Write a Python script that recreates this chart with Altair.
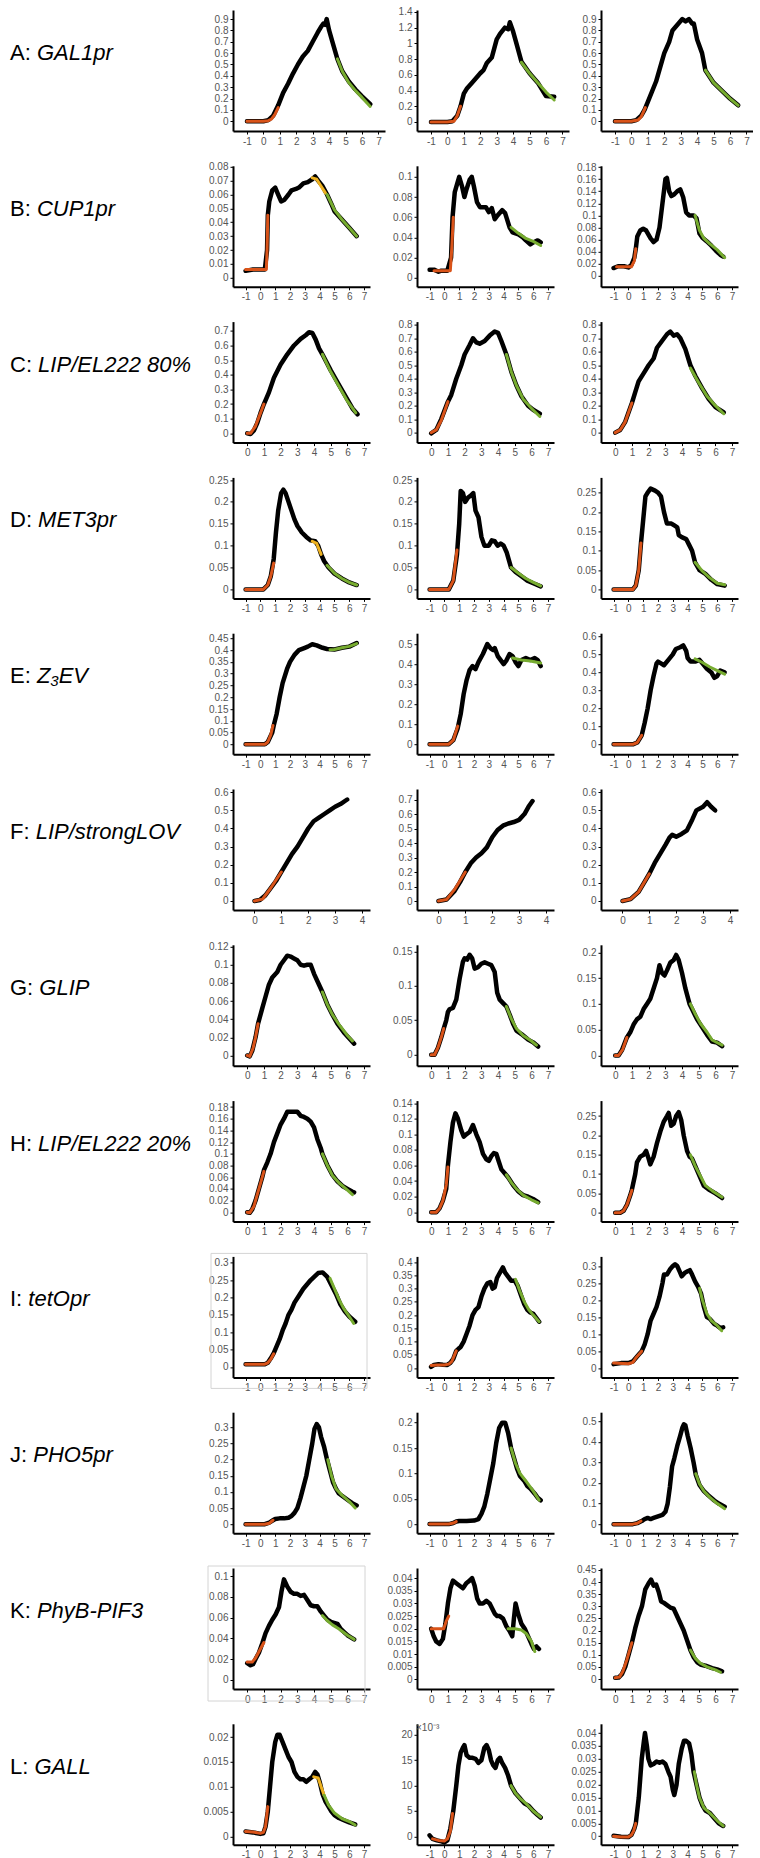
import altair as alt
import pandas as pd

# ---------------- data (time in h, signal) ----------------
A1_black = [[-1,0],[-0.5,0],[0,0],[0.3,0.01],[0.6,0.05],[0.9,0.14],[1.2,0.25],[1.5,0.33],[1.8,0.42],[2.1,0.5],[2.4,0.57],[2.7,0.62],[3.0,0.7],[3.3,0.78],[3.5,0.83],[3.65,0.86],[3.75,0.85],[3.85,0.9],[4.0,0.8],[4.2,0.7],[4.5,0.55],[4.8,0.44],[5.2,0.35],[5.6,0.28],[6.0,0.22],[6.5,0.15]]
A1_orange = [[-1,0],[-0.5,0],[0,0],[0.3,0.005],[0.5,0.02],[0.7,0.06],[0.9,0.12]]
A1_green = [[4.5,0.55],[4.8,0.44],[5.2,0.34],[5.6,0.27],[6,0.21],[6.5,0.13]]

A2_black = [[-1,0],[-0.5,0],[0,0],[0.3,0.01],[0.6,0.08],[0.8,0.2],[1.0,0.36],[1.2,0.43],[1.5,0.5],[2.0,0.62],[2.2,0.66],[2.4,0.75],[2.7,0.82],[3.0,1.05],[3.2,1.12],[3.5,1.2],[3.7,1.18],[3.8,1.27],[4.0,1.15],[4.2,1.0],[4.5,0.77],[5.0,0.62],[5.5,0.5],[6.0,0.33],[6.5,0.32]]
A2_orange = [[-1,0],[-0.5,0],[0,0],[0.4,0.01],[0.6,0.08],[0.8,0.2]]
A2_green = [[4.5,0.76],[5,0.62],[5.5,0.5],[6,0.38],[6.5,0.28]]

A3_black = [[-1,0],[-0.5,0],[0,0],[0.3,0.01],[0.6,0.05],[0.8,0.1],[1.0,0.17],[1.5,0.35],[2.0,0.6],[2.3,0.7],[2.5,0.8],[2.8,0.85],[3.1,0.9],[3.3,0.88],[3.5,0.9],[3.7,0.86],[3.8,0.86],[4.0,0.72],[4.3,0.6],[4.5,0.45],[5.0,0.34],[5.5,0.27],[6.0,0.2],[6.5,0.14]]
A3_orange = [[-1,0],[-0.5,0],[0,0],[0.4,0.01],[0.6,0.04],[0.85,0.12]]
A3_green = [[4.5,0.45],[5,0.34],[5.5,0.27],[6,0.2],[6.5,0.14]]

B1_black = [[-1,0.005],[-0.5,0.006],[0,0.006],[0.3,0.006],[0.45,0.02],[0.5,0.045],[0.6,0.055],[0.8,0.063],[1.0,0.065],[1.2,0.06],[1.4,0.055],[1.6,0.056],[1.9,0.06],[2.1,0.063],[2.4,0.064],[2.6,0.065],[2.9,0.068],[3.2,0.069],[3.5,0.071],[3.7,0.073],[3.9,0.07],[4.2,0.066],[4.5,0.06],[4.8,0.053],[5.0,0.048],[5.5,0.042],[6.0,0.036],[6.5,0.03]]
B1_orange = [[-1,0.006],[0.4,0.006],[0.45,0.02],[0.5,0.045]]
B1_yellow = [[3.5,0.072],[3.8,0.071],[4.1,0.066],[4.4,0.061]]
B1_green = [[4.5,0.06],[5,0.049],[5.5,0.042],[6,0.036],[6.5,0.03]]

B2_black = [[-1,0.008],[-0.7,0.008],[-0.4,0.006],[-0.2,0.007],[0.2,0.007],[0.45,0.02],[0.55,0.06],[0.7,0.085],[0.9,0.095],[1.0,0.1],[1.2,0.09],[1.35,0.08],[1.5,0.088],[1.7,0.097],[1.85,0.1],[2.0,0.09],[2.2,0.075],[2.4,0.07],[2.8,0.07],[3.0,0.065],[3.2,0.069],[3.4,0.058],[3.6,0.062],[3.9,0.067],[4.1,0.064],[4.4,0.05],[4.6,0.045],[5.0,0.043],[5.3,0.04],[5.5,0.037],[5.8,0.033],[6.0,0.035],[6.3,0.037],[6.5,0.035]]
B2_orange = [[-0.7,0.007],[0.4,0.007],[0.5,0.03],[0.6,0.06]]
B2_green = [[4.5,0.05],[5,0.044],[5.5,0.039],[6,0.036],[6.5,0.032]]

B3_black = [[-1,0.013],[-0.7,0.016],[-0.3,0.016],[0,0.014],[0.2,0.018],[0.4,0.03],[0.5,0.045],[0.6,0.065],[0.8,0.075],[1.0,0.078],[1.2,0.075],[1.5,0.062],[1.7,0.056],[1.9,0.06],[2.1,0.08],[2.3,0.12],[2.5,0.16],[2.6,0.162],[2.75,0.14],[2.9,0.132],[3.1,0.135],[3.3,0.14],[3.5,0.143],[3.7,0.13],[3.9,0.105],[4.1,0.1],[4.4,0.1],[4.6,0.095],[4.8,0.07],[5.0,0.063],[5.3,0.057],[5.6,0.05],[5.9,0.042],[6.2,0.035],[6.4,0.032]]
B3_orange = [[-0.8,0.015],[0.2,0.015],[0.4,0.025],[0.5,0.045]]
B3_green = [[4.5,0.1],[4.8,0.075],[5.1,0.062],[5.5,0.053],[6,0.043],[6.5,0.03]]

C1_black = [[0,0],[0.2,-0.005],[0.4,0.02],[0.6,0.07],[0.8,0.14],[1.0,0.2],[1.3,0.28],[1.6,0.38],[2.0,0.47],[2.4,0.54],[2.8,0.6],[3.2,0.645],[3.5,0.67],[3.7,0.69],[3.9,0.685],[4.1,0.64],[4.3,0.58],[4.5,0.54],[5.0,0.43],[5.5,0.33],[6.0,0.23],[6.3,0.17],[6.6,0.13]]
C1_orange = [[0,0],[0.2,0],[0.5,0.05],[0.8,0.14],[1.0,0.2]]
C1_green = [[4.5,0.54],[5,0.42],[5.5,0.32],[6,0.22],[6.5,0.14]]

C2_black = [[0,-0.005],[0.3,0.02],[0.6,0.1],[1.0,0.23],[1.2,0.28],[1.5,0.4],[1.8,0.5],[2.0,0.58],[2.3,0.65],[2.5,0.7],[2.7,0.67],[2.9,0.66],[3.2,0.68],[3.5,0.72],[3.8,0.75],[4.0,0.74],[4.2,0.68],[4.5,0.58],[4.8,0.45],[5.1,0.35],[5.4,0.27],[5.8,0.2],[6.1,0.17],[6.5,0.14]]
C2_orange = [[0,0],[0.3,0.02],[0.6,0.09],[1.0,0.23]]
C2_green = [[4.5,0.58],[4.8,0.45],[5.1,0.35],[5.5,0.25],[6,0.18],[6.5,0.12]]

C3_black = [[0,0],[0.3,0.02],[0.6,0.08],[1.0,0.22],[1.2,0.3],[1.4,0.38],[1.7,0.44],[2.0,0.5],[2.3,0.55],[2.5,0.63],[2.8,0.68],[3.1,0.73],[3.3,0.75],[3.5,0.72],[3.7,0.73],[3.9,0.7],[4.2,0.62],[4.5,0.5],[4.8,0.42],[5.2,0.33],[5.6,0.25],[6.0,0.19],[6.5,0.15]]
C3_orange = [[0,0],[0.3,0.02],[0.6,0.08],[1.0,0.22]]
C3_green = [[4.5,0.48],[5,0.37],[5.5,0.27],[6,0.2],[6.5,0.14]]

D1_black = [[-1,0],[-0.5,0],[0.2,0],[0.5,0.01],[0.7,0.03],[0.9,0.07],[1.05,0.13],[1.2,0.18],[1.4,0.22],[1.55,0.228],[1.7,0.22],[1.9,0.2],[2.1,0.18],[2.3,0.16],[2.5,0.145],[2.8,0.13],[3.1,0.12],[3.4,0.112],[3.7,0.11],[3.9,0.1],[4.1,0.08],[4.3,0.065],[4.6,0.05],[5.0,0.036],[5.5,0.025],[6.0,0.016],[6.5,0.01]]
D1_orange = [[-1,0],[0.2,0],[0.5,0.01],[0.7,0.03],[0.9,0.06]]
D1_yellow = [[3.5,0.11],[3.8,0.105],[4.1,0.08]]
D1_green = [[4.5,0.055],[5,0.037],[5.5,0.025],[6,0.016],[6.5,0.01]]

D2_black = [[-1,0],[-0.5,0],[0.3,0],[0.6,0.02],[0.85,0.08],[1.0,0.15],[1.1,0.225],[1.25,0.22],[1.4,0.2],[1.6,0.21],[1.8,0.215],[1.95,0.22],[2.1,0.18],[2.3,0.165],[2.5,0.12],[2.7,0.1],[3.0,0.1],[3.2,0.112],[3.4,0.11],[3.6,0.1],[3.8,0.105],[4.0,0.1],[4.2,0.085],[4.5,0.05],[4.8,0.04],[5.2,0.03],[5.6,0.02],[6.0,0.014],[6.5,0.007]]
D2_orange = [[-1,0],[0.3,0],[0.6,0.02],[0.85,0.09]]
D2_green = [[4.5,0.05],[5,0.037],[5.5,0.025],[6,0.016],[6.5,0.008]]

D3_black = [[-1,0],[-0.5,0],[0.3,0],[0.5,0.01],[0.7,0.05],[0.85,0.12],[1.0,0.18],[1.15,0.24],[1.3,0.25],[1.5,0.26],[1.8,0.255],[2.0,0.25],[2.2,0.24],[2.4,0.2],[2.6,0.17],[2.9,0.17],[3.1,0.165],[3.3,0.16],[3.4,0.14],[3.6,0.135],[3.9,0.13],[4.1,0.115],[4.3,0.1],[4.5,0.07],[4.8,0.05],[5.2,0.04],[5.6,0.025],[6.0,0.014],[6.5,0.01]]
D3_orange = [[-1,0],[0.3,0],[0.5,0.01],[0.7,0.05],[0.85,0.12]]
D3_green = [[4.5,0.07],[5,0.047],[5.5,0.03],[6,0.016],[6.5,0.012]]

E1_black = [[-1,0],[-0.5,0],[0.3,0],[0.5,0.01],[0.8,0.05],[0.9,0.08],[1.1,0.13],[1.3,0.2],[1.5,0.26],[1.8,0.32],[2.0,0.35],[2.3,0.38],[2.6,0.4],[3.0,0.41],[3.2,0.415],[3.5,0.425],[3.8,0.42],[4.0,0.415],[4.2,0.41],[4.5,0.405],[5.0,0.403],[5.5,0.41],[6.0,0.415],[6.5,0.43]]
E1_orange = [[-1,0],[0.3,0],[0.5,0.01],[0.7,0.04],[0.85,0.08]]
E1_green = [[4.7,0.402],[5,0.403],[5.5,0.41],[6,0.416],[6.5,0.428]]

E2_black = [[-1,0],[-0.5,0],[0.3,0],[0.6,0.02],[0.9,0.08],[1.1,0.15],[1.3,0.25],[1.5,0.32],[1.7,0.37],[1.9,0.39],[2.1,0.375],[2.3,0.41],[2.6,0.45],[2.9,0.5],[3.1,0.48],[3.3,0.47],[3.4,0.48],[3.6,0.44],[3.8,0.42],[4.0,0.4],[4.2,0.42],[4.4,0.45],[4.6,0.44],[4.8,0.41],[5.0,0.39],[5.2,0.42],[5.5,0.43],[5.8,0.42],[6.1,0.43],[6.3,0.42],[6.5,0.39]]
E2_orange = [[-1,0],[0.3,0],[0.6,0.02],[0.9,0.09]]
E2_green = [[4.6,0.43],[5.2,0.42],[5.8,0.415],[6.5,0.405]]

E3_black = [[-1,0],[-0.5,0],[0.3,0],[0.6,0.01],[0.9,0.05],[1.1,0.12],[1.3,0.2],[1.5,0.3],[1.7,0.38],[1.9,0.45],[2.0,0.46],[2.2,0.45],[2.4,0.44],[2.7,0.47],[3.0,0.5],[3.2,0.53],[3.5,0.54],[3.7,0.55],[3.9,0.52],[4.0,0.48],[4.2,0.46],[4.5,0.46],[4.8,0.47],[5.0,0.45],[5.3,0.42],[5.6,0.4],[5.8,0.37],[6.0,0.38],[6.2,0.41],[6.5,0.4]]
E3_orange = [[-1,0],[0.3,0],[0.6,0.01],[0.9,0.05]]
E3_green = [[4.5,0.475],[5,0.455],[5.5,0.43],[6,0.41],[6.5,0.39]]

F1_black = [[0,0],[0.2,0.005],[0.4,0.03],[0.6,0.07],[0.8,0.11],[1.0,0.16],[1.2,0.21],[1.4,0.26],[1.6,0.3],[1.8,0.35],[2.0,0.4],[2.2,0.44],[2.4,0.46],[2.6,0.48],[2.8,0.5],[3.0,0.52],[3.2,0.535],[3.45,0.56]]
F1_orange = [[0,0],[0.3,0.01],[0.6,0.07],[1.0,0.16]]

F2_black = [[0,0],[0.3,0.01],[0.6,0.07],[0.8,0.13],[1.0,0.2],[1.2,0.26],[1.4,0.3],[1.6,0.33],[1.8,0.37],[2.0,0.44],[2.2,0.49],[2.4,0.52],[2.6,0.535],[2.8,0.545],[3.0,0.56],[3.2,0.6],[3.35,0.65],[3.5,0.69]]
F2_orange = [[0,0],[0.3,0.01],[0.6,0.08],[1.0,0.2]]

F3_black = [[0,0],[0.3,0.01],[0.6,0.05],[0.8,0.1],[1.0,0.15],[1.2,0.21],[1.4,0.26],[1.6,0.31],[1.75,0.35],[1.85,0.365],[2.0,0.355],[2.2,0.37],[2.4,0.39],[2.6,0.45],[2.75,0.5],[3.0,0.52],[3.15,0.545],[3.3,0.52],[3.45,0.5]]
F3_orange = [[0,0],[0.3,0.01],[0.6,0.05],[1.0,0.15]]

G1_black = [[0,0],[0.15,-0.001],[0.3,0.005],[0.5,0.02],[0.65,0.035],[0.9,0.052],[1.1,0.065],[1.3,0.078],[1.5,0.086],[1.8,0.092],[2.0,0.1],[2.2,0.105],[2.4,0.11],[2.6,0.109],[2.8,0.107],[3.0,0.105],[3.2,0.1],[3.4,0.099],[3.6,0.1],[3.8,0.1],[4.0,0.09],[4.3,0.078],[4.5,0.07],[4.8,0.056],[5.1,0.045],[5.4,0.035],[5.8,0.025],[6.1,0.019],[6.4,0.013]]
G1_orange = [[0,0],[0.15,-0.001],[0.35,0.008],[0.5,0.02],[0.65,0.035]]
G1_green = [[4.5,0.07],[4.8,0.056],[5.1,0.045],[5.5,0.034],[6,0.022],[6.3,0.016]]

G2_black = [[0,0],[0.2,0],[0.4,0.01],[0.6,0.025],[0.75,0.038],[0.9,0.05],[1.0,0.062],[1.1,0.066],[1.3,0.068],[1.5,0.08],[1.7,0.11],[1.9,0.135],[2.0,0.14],[2.15,0.138],[2.3,0.145],[2.45,0.14],[2.6,0.125],[2.8,0.127],[3.0,0.132],[3.2,0.134],[3.4,0.132],[3.6,0.13],[3.8,0.12],[3.95,0.09],[4.1,0.08],[4.3,0.075],[4.5,0.07],[4.7,0.058],[4.9,0.045],[5.1,0.035],[5.4,0.03],[5.8,0.022],[6.1,0.018],[6.4,0.012]]
G2_orange = [[0,0],[0.2,0],[0.4,0.01],[0.6,0.025],[0.75,0.038]]
G2_green = [[4.5,0.07],[4.8,0.052],[5.1,0.038],[5.5,0.028],[6,0.02],[6.3,0.014]]

G3_black = [[0,0],[0.2,0],[0.4,0.01],[0.7,0.035],[0.9,0.045],[1.1,0.06],[1.3,0.07],[1.5,0.075],[1.7,0.09],[1.9,0.1],[2.1,0.11],[2.3,0.13],[2.5,0.15],[2.65,0.175],[2.8,0.16],[2.95,0.155],[3.1,0.165],[3.3,0.18],[3.5,0.185],[3.65,0.195],[3.8,0.185],[4.0,0.16],[4.2,0.13],[4.45,0.1],[4.6,0.09],[4.9,0.07],[5.2,0.055],[5.5,0.04],[5.8,0.027],[6.1,0.025],[6.4,0.018]]
G3_orange = [[0,0],[0.2,0],[0.45,0.012],[0.7,0.035]]
G3_green = [[4.5,0.1],[4.8,0.08],[5.1,0.062],[5.5,0.045],[5.8,0.03],[6.4,0.02]]

H1_black = [[0,0],[0.15,-0.001],[0.3,0.005],[0.5,0.02],[0.7,0.04],[0.9,0.06],[1.0,0.072],[1.2,0.085],[1.4,0.1],[1.6,0.12],[1.8,0.135],[2.0,0.15],[2.2,0.16],[2.4,0.172],[2.6,0.172],[2.8,0.172],[3.0,0.172],[3.2,0.165],[3.4,0.163],[3.6,0.16],[3.8,0.155],[4.0,0.145],[4.2,0.125],[4.4,0.11],[4.5,0.1],[4.8,0.08],[5.1,0.064],[5.4,0.053],[5.7,0.045],[6.0,0.04],[6.3,0.035],[6.4,0.034]]
H1_orange = [[0,0],[0.15,-0.001],[0.4,0.01],[0.7,0.04],[1.0,0.07]]
H1_green = [[4.5,0.1],[4.8,0.08],[5.1,0.063],[5.5,0.05],[6,0.038],[6.3,0.03]]

H2_black = [[0,0],[0.3,0],[0.5,0.005],[0.7,0.015],[0.9,0.03],[1.0,0.06],[1.15,0.09],[1.3,0.115],[1.45,0.127],[1.6,0.12],[1.8,0.105],[1.95,0.097],[2.1,0.1],[2.3,0.103],[2.5,0.112],[2.7,0.1],[2.9,0.09],[3.1,0.075],[3.3,0.068],[3.45,0.066],[3.6,0.072],[3.75,0.076],[3.9,0.075],[4.0,0.068],[4.2,0.055],[4.4,0.05],[4.6,0.045],[4.9,0.035],[5.2,0.027],[5.5,0.022],[5.8,0.02],[6.1,0.017],[6.4,0.013]]
H2_orange = [[0,0],[0.3,0],[0.5,0.005],[0.7,0.015],[0.9,0.035],[1.0,0.058]]
H2_green = [[4.5,0.048],[4.8,0.038],[5.1,0.03],[5.5,0.022],[6,0.016],[6.4,0.012]]

H3_black = [[0,0],[0.3,0],[0.5,0.005],[0.7,0.02],[0.9,0.045],[1.0,0.06],[1.2,0.1],[1.3,0.13],[1.5,0.145],[1.7,0.15],[1.85,0.16],[2.0,0.14],[2.1,0.125],[2.3,0.145],[2.5,0.18],[2.7,0.21],[2.9,0.235],[3.1,0.25],[3.2,0.258],[3.35,0.225],[3.5,0.23],[3.65,0.25],[3.8,0.26],[3.95,0.24],[4.1,0.2],[4.3,0.16],[4.45,0.145],[4.6,0.14],[4.8,0.12],[5.0,0.1],[5.3,0.07],[5.6,0.06],[6.0,0.05],[6.4,0.038]]
H3_orange = [[0,0],[0.3,0],[0.5,0.005],[0.7,0.02],[0.9,0.045],[1.0,0.058]]
H3_green = [[4.5,0.15],[4.8,0.12],[5.1,0.095],[5.4,0.07],[5.8,0.057],[6.4,0.04]]

I1_black = [[-1,0.008],[-0.5,0.008],[0,0.008],[0.3,0.008],[0.5,0.012],[0.7,0.025],[0.9,0.04],[1.1,0.06],[1.3,0.08],[1.5,0.105],[1.7,0.125],[1.9,0.15],[2.1,0.165],[2.3,0.185],[2.6,0.205],[2.9,0.225],[3.1,0.235],[3.4,0.25],[3.7,0.262],[3.9,0.27],[4.2,0.272],[4.5,0.26],[4.8,0.235],[5.1,0.21],[5.4,0.18],[5.7,0.16],[6.0,0.145],[6.4,0.13]]
I1_orange = [[-1,0.008],[0.3,0.008],[0.5,0.012],[0.7,0.022],[0.9,0.038]]
I1_green = [[4.7,0.255],[5,0.225],[5.3,0.195],[5.6,0.17],[6,0.145],[6.3,0.125]]

I2_black = [[-0.9,0.005],[-0.7,0.012],[-0.4,0.015],[-0.1,0.013],[0.2,0.012],[0.4,0.02],[0.6,0.035],[0.8,0.065],[0.95,0.073],[1.1,0.08],[1.3,0.1],[1.5,0.13],[1.7,0.16],[1.9,0.2],[2.1,0.22],[2.3,0.23],[2.5,0.27],[2.7,0.3],[2.9,0.32],[3.1,0.325],[3.25,0.3],[3.4,0.305],[3.55,0.34],[3.75,0.36],[3.95,0.38],[4.1,0.36],[4.3,0.345],[4.5,0.33],[4.75,0.33],[4.95,0.31],[5.2,0.27],[5.4,0.24],[5.6,0.22],[5.8,0.21],[6.0,0.205],[6.2,0.19],[6.4,0.175]]
I2_orange = [[-0.9,0.01],[-0.5,0.012],[0,0.012],[0.3,0.015],[0.5,0.025],[0.8,0.065]]
I2_green = [[4.8,0.335],[5.1,0.29],[5.4,0.25],[5.7,0.22],[6,0.2],[6.4,0.175]]

I3_black = [[-1,0.012],[-0.5,0.015],[0,0.015],[0.3,0.02],[0.5,0.03],[0.7,0.04],[0.9,0.05],[1.1,0.07],[1.3,0.1],[1.5,0.14],[1.7,0.16],[1.9,0.18],[2.1,0.21],[2.3,0.25],[2.4,0.275],[2.6,0.275],[2.8,0.29],[3.0,0.3],[3.15,0.305],[3.3,0.3],[3.45,0.285],[3.6,0.27],[3.8,0.28],[4.0,0.285],[4.15,0.288],[4.3,0.275],[4.5,0.255],[4.7,0.24],[4.9,0.22],[5.1,0.18],[5.3,0.15],[5.5,0.145],[5.8,0.13],[6.0,0.125],[6.2,0.118],[6.4,0.12]]
I3_orange = [[-1,0.015],[0,0.013],[0.3,0.017],[0.5,0.03],[0.9,0.05]]
I3_green = [[4.8,0.235],[5.0,0.2],[5.3,0.16],[5.6,0.14],[6,0.125],[6.3,0.11]]

J1_black = [[-1,0],[-0.5,0],[0,0],[0.3,0],[0.6,0.005],[0.85,0.012],[1.0,0.016],[1.3,0.018],[1.6,0.018],[1.9,0.02],[2.1,0.025],[2.3,0.035],[2.5,0.05],[2.7,0.08],[2.9,0.115],[3.1,0.15],[3.3,0.2],[3.5,0.25],[3.65,0.295],[3.8,0.31],[3.95,0.3],[4.1,0.27],[4.3,0.24],[4.5,0.2],[4.7,0.165],[4.9,0.13],[5.1,0.11],[5.3,0.095],[5.6,0.085],[5.9,0.075],[6.2,0.065],[6.5,0.058]]
J1_orange = [[-1,0],[0.3,0],[0.6,0.003],[0.85,0.012]]
J1_green = [[4.55,0.2],[4.8,0.15],[5.1,0.11],[5.5,0.09],[6,0.07],[6.4,0.05]]

J2_black = [[-1,0],[0,0],[0.3,0],[0.6,0.002],[0.8,0.005],[1.0,0.006],[1.5,0.006],[2.0,0.007],[2.3,0.01],[2.5,0.02],[2.7,0.035],[2.9,0.06],[3.1,0.09],[3.3,0.12],[3.5,0.16],[3.7,0.19],[3.9,0.2],[4.1,0.2],[4.3,0.18],[4.5,0.15],[4.7,0.13],[4.9,0.11],[5.1,0.095],[5.4,0.085],[5.6,0.075],[5.8,0.07],[6.1,0.06],[6.3,0.052],[6.5,0.047]]
J2_orange = [[-1,0],[0.3,0],[0.6,0.002],[0.8,0.005]]
J2_green = [[4.5,0.15],[4.8,0.12],[5.1,0.1],[5.5,0.085],[6,0.065],[6.4,0.047]]

J3_black = [[-1,0],[-0.5,0],[0.3,0],[0.6,0.005],[0.9,0.015],[1.1,0.025],[1.3,0.03],[1.5,0.025],[1.7,0.03],[1.9,0.035],[2.1,0.04],[2.3,0.045],[2.5,0.06],[2.65,0.1],[2.8,0.18],[2.95,0.28],[3.1,0.32],[3.3,0.38],[3.5,0.43],[3.65,0.47],[3.75,0.485],[3.85,0.48],[4.0,0.43],[4.2,0.37],[4.4,0.3],[4.55,0.24],[4.8,0.19],[5.1,0.16],[5.4,0.14],[5.8,0.115],[6.1,0.1],[6.5,0.085]]
J3_orange = [[-1,0],[0.3,0],[0.6,0.004],[0.85,0.015]]
J3_green = [[4.55,0.245],[4.8,0.195],[5.1,0.16],[5.5,0.13],[6,0.1],[6.5,0.075]]

K1_black = [[0,0.016],[0.2,0.014],[0.35,0.015],[0.5,0.02],[0.7,0.026],[0.9,0.035],[1.1,0.045],[1.3,0.052],[1.5,0.058],[1.7,0.063],[1.9,0.07],[2.05,0.085],[2.2,0.097],[2.4,0.09],[2.6,0.085],[2.8,0.083],[3.0,0.083],[3.2,0.081],[3.4,0.082],[3.6,0.077],[3.8,0.072],[4.0,0.071],[4.2,0.071],[4.4,0.066],[4.6,0.062],[4.8,0.058],[5.0,0.056],[5.2,0.055],[5.4,0.054],[5.6,0.049],[5.8,0.046],[6.0,0.043],[6.2,0.041],[6.4,0.039]]
K1_orange = [[0,0.017],[0.3,0.017],[0.5,0.021],[0.7,0.027],[1.0,0.036]]
K1_green = [[4.5,0.062],[4.8,0.057],[5.1,0.053],[5.5,0.049],[6,0.043],[6.4,0.039]]

K2_black = [[0,0.02],[0.15,0.017],[0.3,0.015],[0.5,0.014],[0.7,0.016],[0.85,0.022],[1.0,0.03],[1.15,0.036],[1.3,0.039],[1.5,0.038],[1.7,0.037],[1.9,0.036],[2.1,0.038],[2.3,0.039],[2.45,0.04],[2.6,0.037],[2.75,0.032],[2.9,0.03],[3.1,0.03],[3.3,0.031],[3.5,0.03],[3.65,0.028],[3.8,0.026],[3.95,0.025],[4.1,0.025],[4.3,0.024],[4.5,0.021],[4.7,0.019],[4.85,0.017],[4.95,0.024],[5.05,0.03],[5.2,0.026],[5.4,0.022],[5.6,0.02],[5.8,0.017],[6.0,0.014],[6.15,0.012],[6.3,0.013],[6.45,0.012]]
K2_orange = [[0,0.02],[0.3,0.02],[0.6,0.02],[0.75,0.02],[0.9,0.023],[1.05,0.025]]
K2_green = [[4.6,0.02],[5.0,0.02],[5.4,0.0195],[5.7,0.018],[6.0,0.015],[6.2,0.011]]

K3_black = [[0,0.005],[0.2,0.006],[0.4,0.02],[0.6,0.05],[0.8,0.1],[1.0,0.15],[1.2,0.21],[1.4,0.26],[1.6,0.3],[1.8,0.37],[2.0,0.395],[2.15,0.41],[2.3,0.385],[2.45,0.39],[2.6,0.36],[2.75,0.32],[2.9,0.315],[3.1,0.305],[3.3,0.295],[3.5,0.29],[3.7,0.26],[3.9,0.23],[4.1,0.2],[4.3,0.16],[4.5,0.12],[4.7,0.09],[4.9,0.07],[5.1,0.06],[5.4,0.055],[5.8,0.045],[6.1,0.04],[6.4,0.032]]
K3_orange = [[0,0.005],[0.25,0.008],[0.45,0.03],[0.7,0.08],[1.0,0.15]]
K3_green = [[4.5,0.12],[4.8,0.085],[5.1,0.065],[5.5,0.05],[6,0.038],[6.3,0.028]]

L1_black = [[-1,0.001],[-0.5,0.0008],[0,0.0005],[0.2,0.0006],[0.35,0.002],[0.5,0.005],[0.65,0.01],[0.8,0.015],[1.0,0.019],[1.15,0.0205],[1.3,0.0205],[1.5,0.019],[1.7,0.0175],[1.9,0.016],[2.1,0.015],[2.3,0.013],[2.5,0.012],[2.7,0.0115],[2.9,0.0115],[3.1,0.011],[3.3,0.0115],[3.5,0.012],[3.7,0.013],[3.85,0.0125],[4.0,0.011],[4.2,0.0085],[4.4,0.007],[4.6,0.006],[4.8,0.005],[5.0,0.0043],[5.3,0.0037],[5.6,0.0033],[6.0,0.0028],[6.4,0.0024]]
L1_orange = [[-1,0.001],[-0.5,0.0009],[0,0.0006],[0.2,0.0008],[0.35,0.002],[0.5,0.006]]
L1_yellow = [[3.6,0.012],[3.9,0.0118],[4.1,0.01],[4.3,0.0083]]
L1_green = [[4.3,0.0083],[4.6,0.0063],[5,0.0047],[5.5,0.0036],[6,0.003],[6.4,0.0023]]

# L2 values in units of 1e-3
L2_black = [[-1,0.2],[-0.8,-0.5],[-0.5,-0.8],[-0.2,-1.0],[0,-1.2],[0.2,-0.8],[0.4,1.5],[0.6,5],[0.8,10],[0.95,14],[1.1,16.5],[1.25,17.5],[1.35,18],[1.5,16],[1.7,15.5],[1.9,15.5],[2.1,15.3],[2.3,14.5],[2.5,15],[2.7,17.5],[2.85,18],[3.0,17],[3.15,15],[3.3,14],[3.45,13.5],[3.6,15],[3.75,15.5],[3.9,14.5],[4.1,13.5],[4.3,12],[4.5,10],[4.8,8.5],[5.1,7.5],[5.4,6.5],[5.7,6],[6.0,5],[6.3,4.2],[6.5,3.7]]
L2_orange = [[-0.8,-0.5],[-0.4,-0.8],[0,-0.9],[0.2,-0.5],[0.4,1],[0.55,4.5]]
L2_green = [[4.5,10],[4.8,8.5],[5.1,7.5],[5.5,6.5],[6,5],[6.5,3.8]]

L3_black = [[-1,0.0002],[-0.5,-0.0002],[0,-0.0003],[0.2,0.0005],[0.4,0.003],[0.5,0.005],[0.7,0.015],[0.9,0.03],[1.05,0.037],[1.12,0.04],[1.25,0.035],[1.35,0.03],[1.5,0.0275],[1.7,0.028],[1.9,0.029],[2.1,0.0285],[2.3,0.029],[2.5,0.028],[2.7,0.025],[2.85,0.023],[3.0,0.018],[3.1,0.016],[3.25,0.02],[3.4,0.028],[3.6,0.034],[3.75,0.037],[3.9,0.037],[4.1,0.036],[4.25,0.032],[4.4,0.025],[4.6,0.02],[4.8,0.015],[5.0,0.012],[5.2,0.01],[5.5,0.009],[5.8,0.007],[6.1,0.005],[6.4,0.004]]
L3_orange = [[-1,0],[-0.5,-0.0003],[0,-0.0003],[0.2,0.0005],[0.35,0.002],[0.5,0.005]]
L3_green = [[4.45,0.025],[4.6,0.02],[4.8,0.015],[5.1,0.011],[5.5,0.009],[6,0.006],[6.4,0.004]]

ROW_LETTERS = ["A", "B", "C", "D", "E", "F", "G", "H", "I", "J", "K", "L"]
ROW_NAMES = ["GAL1pr", "CUP1pr", "LIP/EL222 80%", "MET3pr", "Z3EV", "LIP/strongLOV",
             "GLIP", "LIP/EL222 20%", "tetOpr", "PHO5pr", "PhyB-PIF3", "GALL"]
ROW_XTICKS = ["m1", "m1", "z", "m1", "m1", "f", "z", "z", "m1", "m1", "z", "m1"]

# y-axis: (lower, upper, top tick, tick step) per panel
Y_AXES = {
    "A": [(-0.086, 0.98, 0.9, 0.1), (-0.115, 1.425, 1.4, 0.2), (-0.086, 0.98, 0.9, 0.1)],
    "B": [(-0.0065, 0.0807, 0.08, 0.01), (-0.009, 0.111, 0.1, 0.02), (-0.018, 0.182, 0.18, 0.02)],
    "C": [(-0.063, 0.763, 0.7, 0.1), (-0.074, 0.824, 0.8, 0.1), (-0.074, 0.824, 0.8, 0.1)],
    "D": [(-0.0206, 0.256, 0.25, 0.05), (-0.0206, 0.256, 0.25, 0.05), (-0.023, 0.289, 0.25, 0.05)],
    "E": [(-0.042, 0.472, 0.45, 0.05), (-0.05, 0.554, 0.5, 0.1), (-0.055, 0.618, 0.6, 0.1)],
    "F": [(-0.05, 0.618, 0.6, 0.1), (-0.062, 0.773, 0.7, 0.1), (-0.05, 0.618, 0.6, 0.1)],
    "G": [(-0.0114, 0.122, 0.12, 0.02), (-0.016, 0.1595, 0.15, 0.05), (-0.02, 0.2146, 0.2, 0.05)],
    "H": [(-0.016, 0.191, 0.18, 0.02), (-0.012, 0.1433, 0.14, 0.02), (-0.023, 0.29, 0.25, 0.05)],
    "I": [(-0.03, 0.318, 0.3, 0.05), (-0.035, 0.4215, 0.4, 0.05), (-0.027, 0.3285, 0.3, 0.05)],
    "J": [(-0.028, 0.347, 0.3, 0.05), (-0.018, 0.2207, 0.2, 0.05), (-0.044, 0.544, 0.5, 0.1)],
    "K": [(-0.009, 0.108, 0.1, 0.02), (-0.0038, 0.044, 0.04, 0.005), (-0.041, 0.458, 0.45, 0.05)],
    "L": [(-0.0017, 0.0227, 0.02, 0.005), (-1.67, 22.2, 20, 5), (-0.0033, 0.0436, 0.04, 0.005)],
}

X_AXES = {
    "m1": ((-1.85, 7.4), list(range(-1, 8))),
    "z": ((-0.85, 7.35), list(range(0, 8))),
    "f": ((-0.8, 4.3), list(range(0, 5))),
}

# light grey frames around two of the source panels (pixel offsets from the plot corner)
FRAMES = {"I1": (-22, 134, -3, 132), "K1": (-25, 132, -2, 133)}

ORANGE = "#D95319"
GREEN = "#77AC30"
YELLOW = "#EDB120"

G = globals()

H = 121
FONT = "Liberation Sans"
CHAR_W = {"A": 667, "B": 667, "C": 722, "D": 722, "E": 667, "F": 611, "G": 778,
          "H": 722, "I": 278, "J": 500, "K": 667, "L": 556}
LFS = 22
LY = 43


def label_chart(letter, name, width):
    base = alt.Chart(pd.DataFrame({"k": [0]}))
    x0 = 10
    prefix = base.mark_text(text=f"{letter}:", align="left", baseline="middle",
                            font=FONT, fontSize=LFS, color="black").encode(
        x=alt.value(x0), y=alt.value(LY))
    xg = x0 + (CHAR_W[letter] + 278 + 278) * LFS / 1000.0
    layers = [prefix]
    if name == "Z3EV":
        pieces = [("Z", 611, LFS, 0), ("3", 556, 15, 5), ("EV", 1334, LFS, 0)]
        xx = xg
        for txt, w, fs, dy in pieces:
            layers.append(base.mark_text(text=txt, align="left", baseline="middle", font=FONT,
                                         fontSize=fs, fontStyle="italic", color="black").encode(
                x=alt.value(xx), y=alt.value(LY + dy)))
            xx += w * fs / 1000.0
    else:
        layers.append(base.mark_text(text=name, align="left", baseline="middle", font=FONT,
                                     fontSize=LFS, fontStyle="italic", color="black").encode(
            x=alt.value(xg), y=alt.value(LY)))
    return alt.layer(*layers).properties(width=width, height=H)


def panel(key, xkind, yspec, width, note=None):
    (xd, xt) = X_AXES[xkind]
    lo, hi, top, step = yspec
    n = int(round(top / step))
    yt = [round(i * step, 6) for i in range(n + 1)]
    xenc = alt.X("t:Q", scale=alt.Scale(domain=list(xd), nice=False, zero=False),
                 axis=alt.Axis(values=xt, title=None, format="d",
                               labelExpr="replace(datum.label, '\u2212', '-')"))
    yenc = alt.Y("v:Q", scale=alt.Scale(domain=[lo, hi], nice=False, zero=False),
                 axis=alt.Axis(values=yt, title=None, format="~g"))
    layers = []
    if key in FRAMES:
        fx1, fx2, fy1, fy2 = FRAMES[key]
        layers.append(alt.Chart(pd.DataFrame({"k": [0]})).mark_rect(
            fillOpacity=0, stroke="#d4d4d4", strokeWidth=1).encode(
            x=alt.value(fx1), x2=alt.value(fx2), y=alt.value(fy1), y2=alt.value(fy2)))

    def add(pts, color, w):
        df = pd.DataFrame(pts, columns=["t", "v"])
        layers.append(alt.Chart(df).mark_line(color=color, strokeWidth=w, strokeCap="round",
                                              strokeJoin="round").encode(x=xenc, y=yenc))

    add(G[key + "_black"], "black", 4.5)
    if key + "_orange" in G:
        add(G[key + "_orange"], ORANGE, 3)
    if key + "_yellow" in G:
        add(G[key + "_yellow"], YELLOW, 3)
    if key + "_green" in G:
        add(G[key + "_green"], GREEN, 3)
    if note:
        layers.append(alt.Chart(pd.DataFrame({"k": [0]})).mark_text(
            text=note, align="left", baseline="middle", font=FONT, fontSize=10,
            color="#555").encode(x=alt.value(-1), y=alt.value(4)))
    return alt.layer(*layers).properties(width=width, height=H)


cells = []
for i, letter in enumerate(ROW_LETTERS):
    if letter == "A":
        pw, lw = 152, 201
    else:
        pw, lw = 137, 196
    cells.append(label_chart(letter, ROW_NAMES[i], lw))
    for c in range(3):
        key = f"{letter}{c + 1}"
        note = "\u00d710\u207b\u00b3" if key == "L2" else None
        cells.append(panel(key, ROW_XTICKS[i], Y_AXES[letter][c], pw, note))

chart = alt.ConcatChart(
    concat=cells, columns=4, spacing=alt.RowColnumber(row=34.8, column=32),
    bounds="flush", align="none"
).properties(
    padding={"left": 0, "top": 6, "right": 0, "bottom": 0}
).configure_view(strokeWidth=0).configure_axis(
    grid=False, domainColor="black", domainWidth=2, tickColor="black", tickSize=3,
    tickWidth=1, labelColor="#555555", labelFont=FONT, labelFontSize=10, labelPadding=2,
    labelFlush=False, labelOverlap=False
)

chart.save("out.html", embed_options={"renderer": "svg", "actions": False})
